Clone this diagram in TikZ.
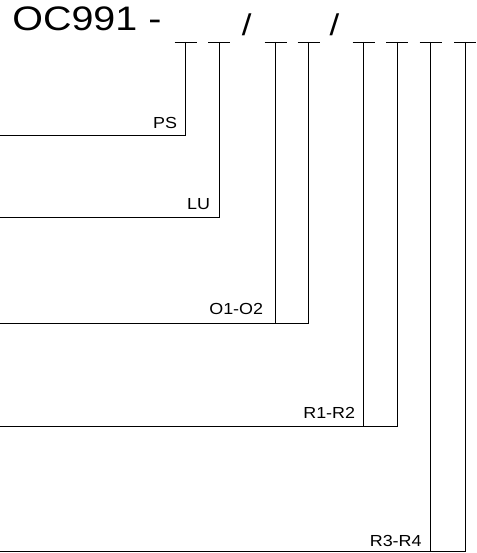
\documentclass[tikz,border=0pt]{standalone}
\usepackage{fontspec}
\setmainfont{Liberation Sans}
\newfontfamily\stretchfont[FakeStretch=1.12]{Liberation Sans}
\newfontfamily\titlefont[FakeStretch=1.16]{Liberation Sans}
\begin{document}
\begin{tikzpicture}[x=1pt,y=-1pt,line width=0.8pt,
  ttl/.style={font=\titlefont\fontsize{34}{36}\selectfont,inner sep=0pt,anchor=base west},
  sl/.style={font=\titlefont\fontsize{30}{32}\selectfont,inner sep=0pt,anchor=base},
  lbl/.style={font=\stretchfont\fontsize{16}{18}\selectfont,inner sep=0pt,anchor=base east},
  wire/.style={draw=black,line join=miter}]
\useasboundingbox (0,0) rectangle (476,553);
\node[ttl] (title) at (12,31) {OC991 -};
\node[sl] (s1) at (246.7,35.5) {/};
\node[sl] (s2) at (334.5,35.5) {/};
% slot positions
\foreach \n/\x in {1/185.5,2/219,3/275.5,4/308.5,5/363.5,6/397,7/430.5,8/465}{
  \coordinate (t\n) at (\x,42);
  \coordinate (tl\n) at (\x-11,42);
  \coordinate (tr\n) at (\x+11,42);
  \draw[wire] (tl\n) -- (tr\n);
}
% bottom corners
\coordinate (b1) at (185.5,135);
\coordinate (b2) at (219,217);
\coordinate (b3) at (275.5,323);
\coordinate (b4) at (308.5,323);
\coordinate (b5) at (363.5,426);
\coordinate (b6) at (397,426);
\coordinate (b7) at (430.5,551.5);
\coordinate (b8) at (465,551.5);
\coordinate (e1) at (0,135);
\coordinate (e2) at (0,217);
\coordinate (e3) at (0,323);
\coordinate (e4) at (0,426);
\coordinate (e5) at (0,551.5);
\draw[wire] (t1) -- (b1) -- (e1);
\draw[wire] (t2) -- (b2) -- (e2);
\draw[wire] (t3) -- (b3);
\draw[wire] (t4) -- (b4) -- (e3);
\draw[wire] (t5) -- (b5);
\draw[wire] (t6) -- (b6) -- (e4);
\draw[wire] (t7) -- (b7);
\draw[wire] (t8) -- (b8) -- (e5);
% labels
\node[lbl] (ps) at (177.5,129) {PS};
\node[lbl] (lu) at (210.5,209) {LU};
\node[lbl] (oo) at (263.5,314) {O1-O2};
\node[lbl] (r12) at (355.5,418) {R1-R2};
\node[lbl] (r34) at (422,546) {R3-R4};
\end{tikzpicture}
\end{document}
